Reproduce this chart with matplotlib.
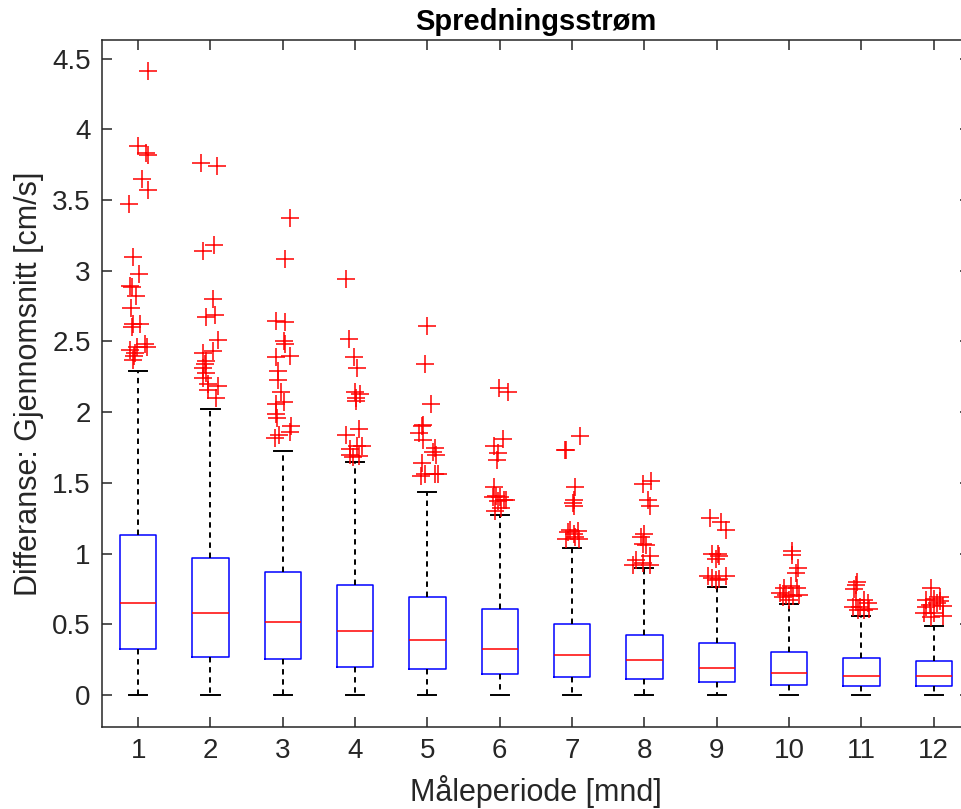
import numpy as np
import matplotlib
matplotlib.use('Agg')
import matplotlib.pyplot as plt

plt.rcParams['font.family'] = ['Liberation Sans', 'DejaVu Sans']

# box statistics per month
months = [1, 2, 3, 4, 5, 6, 7, 8, 9, 10, 11, 12]
medians = [0.653, 0.578, 0.514, 0.450, 0.389, 0.325, 0.285, 0.248, 0.193, 0.153, 0.134, 0.137]
q1 = [0.325, 0.267, 0.255, 0.198, 0.182, 0.146, 0.129, 0.113, 0.090, 0.073, 0.066, 0.061]
q3 = [1.131, 0.967, 0.872, 0.778, 0.691, 0.606, 0.502, 0.424, 0.365, 0.302, 0.260, 0.238]
whisk_lo = [0, 0, 0, 0, 0, 0, 0, 0, 0, 0, 0, 0]
whisk_hi = [2.294, 2.023, 1.728, 1.650, 1.436, 1.271, 1.037, 0.896, 0.766, 0.644, 0.559, 0.490]

# outliers per month, and the horizontal jitter they were drawn with
outliers = [
    [4.41, 3.88, 3.83, 3.82, 3.65, 3.57, 3.47, 3.10, 2.98, 2.89, 2.885, 2.82, 2.74, 2.62, 2.62, 2.60,
     2.48, 2.46, 2.46, 2.44, 2.42, 2.40, 2.37],
    [3.76, 3.74, 3.18, 3.14, 2.80, 2.69, 2.675, 2.51, 2.43, 2.42, 2.36, 2.34, 2.31, 2.28, 2.24, 2.20,
     2.185, 2.16, 2.10],
    [3.37, 3.08, 2.645, 2.64, 2.50, 2.48, 2.39, 2.40, 2.29, 2.23, 2.14, 2.06, 2.07, 1.99, 1.96, 1.90,
     1.86, 1.84, 1.815],
    [2.94, 2.515, 2.39, 2.31, 2.14, 2.13, 2.10, 2.08, 1.88, 1.84, 1.76, 1.76, 1.74, 1.70, 1.69, 1.68],
    [2.61, 2.34, 2.055, 1.91, 1.90, 1.85, 1.80, 1.75, 1.72, 1.70, 1.64, 1.56, 1.56, 1.55, 1.56],
    [2.17, 2.14, 1.81, 1.76, 1.71, 1.66, 1.47, 1.41, 1.40, 1.40, 1.38, 1.38, 1.37, 1.32, 1.30],
    [1.83, 1.735, 1.73, 1.47, 1.38, 1.36, 1.34, 1.17, 1.16, 1.15, 1.14, 1.12, 1.10, 1.10],
    [1.515, 1.49, 1.38, 1.34, 1.14, 1.12, 1.07, 1.06, 0.98, 0.955, 0.93, 0.92, 0.92],
    [1.25, 1.22, 1.17, 1.00, 1.00, 0.98, 0.96, 0.84, 0.84, 0.83, 0.82, 0.81],
    [1.015, 0.99, 0.895, 0.86, 0.77, 0.76, 0.755, 0.72, 0.71, 0.71, 0.70, 0.69, 0.67],
    [0.80, 0.78, 0.75, 0.675, 0.67, 0.65, 0.625, 0.625, 0.61, 0.60, 0.60],
    [0.755, 0.695, 0.68, 0.67, 0.665, 0.65, 0.64, 0.63, 0.62, 0.58, 0.58, 0.56, 0.55],
]
jitter = [
    [0.13, 0.00, 0.11, 0.13, 0.06, 0.13, -0.12, -0.07, 0.01, -0.11, -0.08, -0.03, -0.10, -0.07, 0.02,
     -0.09, 0.09, 0.12, -0.02, -0.11, -0.05, -0.06, -0.07],
    [-0.13, 0.09, 0.05, -0.10, 0.03, 0.06, -0.06, 0.10, 0.03, -0.10, -0.06, -0.08, -0.10, -0.06, -0.10,
     -0.04, 0.11, -0.03, 0.08],
    [0.10, 0.03, -0.09, 0.03, 0.02, 0.03, -0.09, 0.10, -0.07, -0.07, -0.02, -0.10, 0.02, -0.09, -0.08,
     0.12, 0.10, -0.05, -0.11],
    [-0.12, -0.08, -0.02, 0.02, 0.00, 0.07, 0.01, 0.01, 0.06, -0.12, 0.02, 0.09, -0.07, -0.07, 0.06, -0.03],
    [-0.01, -0.04, 0.05, -0.06, -0.08, -0.11, -0.06, 0.10, 0.07, 0.12, -0.08, -0.04, 0.10, -0.09, 0.14],
    [-0.01, 0.11, 0.05, -0.08, -0.03, -0.04, -0.08, -0.05, 0.00, -0.09, 0.06, 0.09, -0.02, 0.02, -0.07],
    [0.11, -0.09, -0.10, 0.04, 0.02, 0.01, 0.02, -0.03, 0.08, -0.05, 0.02, 0.04, -0.08, 0.10],
    [0.09, -0.02, 0.05, 0.08, -0.01, -0.05, -0.02, 0.02, 0.07, -0.11, -0.02, 0.07, -0.16],
    [-0.10, 0.06, 0.13, 0.01, -0.06, 0.03, -0.01, -0.12, 0.13, -0.06, 0.03, -0.01],
    [0.04, 0.04, 0.12, 0.10, 0.03, 0.11, -0.07, -0.13, -0.04, 0.13, 0.05, -0.09, 0.00],
    [-0.06, -0.07, -0.10, -0.07, 0.03, 0.09, -0.12, -0.02, 0.11, 0.04, -0.05],
    [-0.04, 0.08, 0.01, -0.11, 0.08, 0.05, -0.05, 0.13, -0.11, -0.13, 0.01, 0.13, -0.04],
]

stats = []
for i in range(len(months)):
    stats.append({'med': medians[i], 'q1': q1[i], 'q3': q3[i],
                  'whislo': whisk_lo[i], 'whishi': whisk_hi[i], 'fliers': []})

fig = plt.figure(figsize=(9.61, 8.09), dpi=100)
ax = fig.add_axes([0.1061, 0.1014, 0.9032, 0.8492])

ax.bxp(stats, positions=months, widths=0.5, capwidths=0.25, showfliers=False,
       boxprops=dict(color='#0000ff', lw=1.1),
       medianprops=dict(color='#ff0000', lw=1.1),
       whiskerprops=dict(color='black', lw=1.4, ls=(0, (2.8, 2.4))),
       capprops=dict(color='black', lw=1.4))

for m, vals, dx in zip(months, outliers, jitter):
    ax.plot(np.array(dx) + m, vals, ls='none', marker='+', ms=12.5, mew=1.1, color='#ff0000')

ax.set_xlim(0.5, 12.5)
ax.set_ylim(-0.226, 4.632)
ax.set_xticks(months)
ax.set_xticklabels([str(m) for m in months])
ax.set_yticks(np.arange(0, 4.51, 0.5))
ax.set_yticklabels(['0', '0.5', '1', '1.5', '2', '2.5', '3', '3.5', '4', '4.5'])

for s in ax.spines.values():
    s.set_color('#262626')
    s.set_linewidth(1.1)
ax.tick_params(direction='in', length=7, width=1.1, colors='#262626', labelsize=20,
               top=True, right=True, pad=8)

ax.set_xlabel('Måleperiode [mnd]', fontsize=22, color='#262626', labelpad=8)
ax.set_ylabel('Differanse: Gjennomsnitt [cm/s]', fontsize=22, color='#262626', labelpad=6)
ax.set_title('Spredningsstrøm', fontsize=21, fontweight='bold', pad=7)

fig.savefig('out.png', dpi=100)
